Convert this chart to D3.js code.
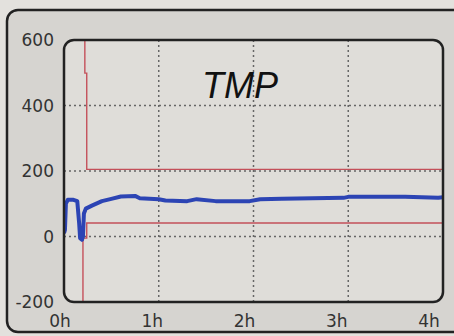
<!DOCTYPE html>
<html>
<head>
<meta charset="utf-8">
<script src="https://cdn.jsdelivr.net/npm/d3@7"></script>
<style>
  body { margin: 0; background: #e3e1dd; }
  svg { display: block; }
</style>
</head>
<body>
<div id="chart"></div>
<script>
// time axis (hours) and value axis
const hourTicks = [0, 1, 2, 3, 4];
const hourLabels = ["0h", "1h", "2h", "3h", "4h"];
const valueTicks = [600, 400, 200, 0, -200];
const gridValues = [400, 200, 0];
const gridHours = [1, 2, 3];

// TMP trace (blue)
const tmpTime = [0, 0.01, 0.02, 0.04, 0.1, 0.14, 0.16, 0.17, 0.19, 0.2, 0.21, 0.23, 0.3, 0.4, 0.5, 0.6, 0.75, 0.8, 1.0, 1.07, 1.3, 1.4, 1.6, 1.96, 2.07, 2.3, 2.95, 3.0, 3.6, 3.95, 4.0];
const tmpValue = [10, 20, 100, 112, 112, 108, 40, -5, -10, 0, 70, 85, 95, 108, 115, 122, 124, 117, 114, 110, 108, 114, 108, 108, 114, 115, 118, 121, 121, 118, 120];

// alarm limits (red)
const upperTime = [0.22, 0.22, 0.24, 0.24, 4.1];
const upperValue = [650, 499, 499, 205, 205];
const lowerTime = [0.2, 0.2, 0.24, 0.24, 4.1];
const lowerValue = [-250, -5, -5, 41, 41];

const width = 454, height = 336;
const plot = { left: 64, top: 40, right: 443, bottom: 302 };

const svg = d3.select("#chart")
    .append("svg")
    .attr("width", width)
    .attr("height", height);

// outer screen frame
svg.append("rect")
    .attr("x", 7).attr("y", 10)
    .attr("width", 470).attr("height", 322)
    .attr("rx", 11)
    .attr("fill", "#d6d4d0")
    .attr("stroke", "#222")
    .attr("stroke-width", 2.5);

const x = d3.scaleLinear().domain([0, 4]).range([plot.left, plot.right]);
const xLabel = d3.scaleLinear().domain([0, 4]).range([60, 429]);
const y = d3.scaleLinear().domain([-200, 600]).range([plot.bottom, plot.top]);

svg.append("clipPath")
    .attr("id", "plotClip")
    .append("rect")
    .attr("x", plot.left).attr("y", plot.top)
    .attr("width", plot.right - plot.left)
    .attr("height", plot.bottom - plot.top)
    .attr("rx", 10);

// plot background
svg.append("rect")
    .attr("x", plot.left).attr("y", plot.top)
    .attr("width", plot.right - plot.left)
    .attr("height", plot.bottom - plot.top)
    .attr("rx", 10)
    .attr("fill", "#dfddd9");

const inner = svg.append("g").attr("clip-path", "url(#plotClip)");

// dotted grid
inner.selectAll(".hgrid")
    .data(gridValues)
    .join("line")
    .attr("x1", plot.left).attr("x2", plot.right)
    .attr("y1", d => y(d)).attr("y2", d => y(d))
    .attr("stroke", "#666")
    .attr("stroke-width", 1.5)
    .attr("stroke-dasharray", "2,3");

inner.selectAll(".vgrid")
    .data(gridHours)
    .join("line")
    .attr("x1", d => x(d)).attr("x2", d => x(d))
    .attr("y1", plot.top).attr("y2", plot.bottom)
    .attr("stroke", "#666")
    .attr("stroke-width", 1.5)
    .attr("stroke-dasharray", "2,3");

// title
svg.append("text")
    .attr("x", 202).attr("y", 98)
    .attr("font-family", "Liberation Sans, Arial, sans-serif")
    .attr("font-style", "italic")
    .attr("font-size", 36)
    .attr("fill", "#111")
    .text("TMP");

const line = d3.line()
    .x(d => x(d[0]))
    .y(d => y(d[1]));

// limit lines
inner.append("path")
    .datum(d3.zip(upperTime, upperValue))
    .attr("d", line)
    .attr("fill", "none")
    .attr("stroke", "#c4505a")
    .attr("stroke-width", 1.4);

inner.append("path")
    .datum(d3.zip(lowerTime, lowerValue))
    .attr("d", line)
    .attr("fill", "none")
    .attr("stroke", "#c4505a")
    .attr("stroke-width", 1.4);

// TMP trace
inner.append("path")
    .datum(d3.zip(tmpTime, tmpValue))
    .attr("d", line)
    .attr("fill", "none")
    .attr("stroke", "#2c44b4")
    .attr("stroke-width", 4)
    .attr("stroke-linejoin", "round");

// plot frame
svg.append("rect")
    .attr("x", plot.left).attr("y", plot.top)
    .attr("width", plot.right - plot.left)
    .attr("height", plot.bottom - plot.top)
    .attr("rx", 10)
    .attr("fill", "none")
    .attr("stroke", "#222")
    .attr("stroke-width", 2.5);

// y labels
svg.selectAll(".ylab")
    .data(valueTicks)
    .join("text")
    .attr("x", 54)
    .attr("y", d => y(d))
    .attr("dy", "0.36em")
    .attr("text-anchor", "end")
    .attr("font-family", "DejaVu Sans, sans-serif")
    .attr("font-size", 17)
    .attr("fill", "#333")
    .text(d => d);

// x labels
svg.selectAll(".xlab")
    .data(hourTicks)
    .join("text")
    .attr("x", d => xLabel(d))
    .attr("y", 327)
    .attr("text-anchor", "middle")
    .attr("font-family", "DejaVu Sans, sans-serif")
    .attr("font-size", 17)
    .attr("fill", "#333")
    .text((d, i) => hourLabels[i]);
</script>
</body>
</html>
